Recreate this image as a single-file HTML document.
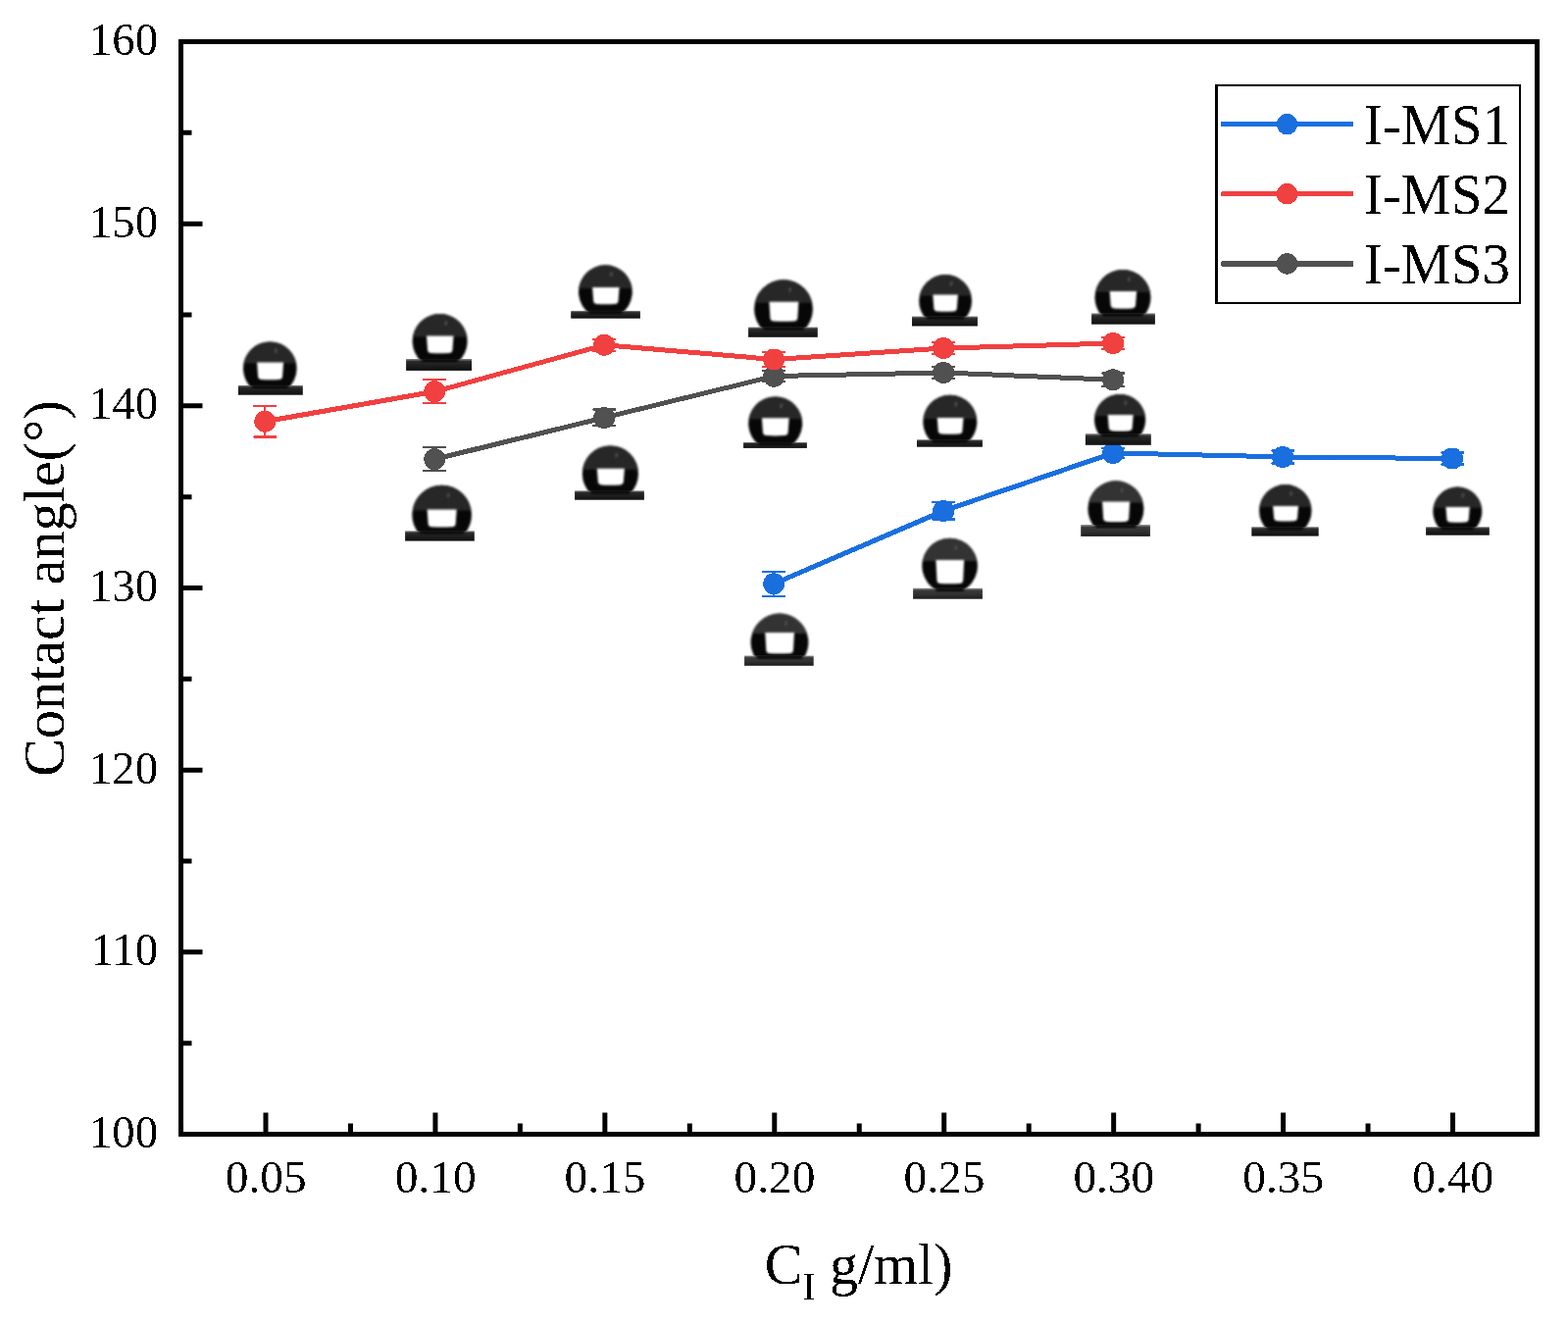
<!DOCTYPE html>
<html><head><meta charset="utf-8"><title>Contact angle</title>
<style>
html,body{margin:0;padding:0;background:#fff;overflow:hidden;}
svg{display:block;}
text{font-family:"Liberation Serif","Times New Roman",serif;fill:#000;}
</style></head><body>
<svg width="1599" height="1350" viewBox="0 0 1599 1350">
<defs>
<linearGradient id="barG" x1="0" y1="0" x2="0" y2="1">
<stop offset="0" stop-color="#8a8a8a"/><stop offset="0.22" stop-color="#2a2a2a"/><stop offset="0.6" stop-color="#1c1c1c"/><stop offset="1" stop-color="#101010"/></linearGradient>
<linearGradient id="barL" x1="0" y1="0" x2="0" y2="1">
<stop offset="0" stop-color="#9a9a9a"/><stop offset="0.22" stop-color="#3a3a3a"/><stop offset="0.6" stop-color="#303030"/><stop offset="1" stop-color="#1a1a1a"/></linearGradient>
<filter id="crisp" x="-5%" y="-5%" width="110%" height="110%" color-interpolation-filters="sRGB"><feComponentTransfer><feFuncA type="discrete" tableValues="0 1"/></feComponentTransfer></filter>
<filter id="bl" x="-10%" y="-10%" width="120%" height="120%" color-interpolation-filters="sRGB"><feGaussianBlur stdDeviation="0.9"/></filter>
</defs>
<rect width="1599" height="1350" fill="#fff"/>

<g id="series" filter="url(#crisp)">
<path d="M789.18,595.3 L962.14,520.9 L1135.1,461.9 L1308.06,465.9 L1481.02,467.5" fill="none" stroke="#1A6FDF" stroke-width="5" stroke-linejoin="round"/>
<path d="M270.3,429.7 L443.26,399.3 L616.22,351.8 L789.18,366.5 L962.14,355 L1135.1,350" fill="none" stroke="#F14040" stroke-width="5" stroke-linejoin="round"/>
<path d="M443.26,468.3 L616.22,425.9 L789.18,383.6 L962.14,380 L1135.1,387.3" fill="none" stroke="#515151" stroke-width="5" stroke-linejoin="round"/>
<circle cx="443.26" cy="468.3" r="11" fill="#515151"/>
<circle cx="616.22" cy="425.9" r="11" fill="#515151"/>
<circle cx="789.18" cy="383.6" r="11" fill="#515151"/>
<circle cx="962.14" cy="380" r="11" fill="#515151"/>
<circle cx="1135.1" cy="387.3" r="11" fill="#515151"/>
<circle cx="789.18" cy="595.3" r="11" fill="#1A6FDF"/>
<circle cx="962.14" cy="520.9" r="11" fill="#1A6FDF"/>
<circle cx="1135.1" cy="461.9" r="11" fill="#1A6FDF"/>
<circle cx="1308.06" cy="465.9" r="11" fill="#1A6FDF"/>
<circle cx="1481.02" cy="467.5" r="11" fill="#1A6FDF"/>
<circle cx="270.3" cy="429.7" r="11" fill="#F14040"/>
<circle cx="443.26" cy="399.3" r="11" fill="#F14040"/>
<circle cx="616.22" cy="351.8" r="11" fill="#F14040"/>
<circle cx="789.18" cy="366.5" r="11" fill="#F14040"/>
<circle cx="962.14" cy="355" r="11" fill="#F14040"/>
<circle cx="1135.1" cy="350" r="11" fill="#F14040"/>
<path d="M789.18,582.7V607.9M777.18,582.7H801.18M777.18,607.9H801.18" stroke="#1A6FDF" stroke-width="2" fill="none"/>
<path d="M962.14,512.25V529.55M950.14,512.25H974.14M950.14,529.55H974.14" stroke="#1A6FDF" stroke-width="2" fill="none"/>
<path d="M1135.1,456.65V467.15M1123.1,456.65H1147.1M1123.1,467.15H1147.1" stroke="#1A6FDF" stroke-width="2" fill="none"/>
<path d="M1308.06,459.4V472.4M1296.06,459.4H1320.06M1296.06,472.4H1320.06" stroke="#1A6FDF" stroke-width="2" fill="none"/>
<path d="M1481.02,461.5V473.5M1469.02,461.5H1493.02M1469.02,473.5H1493.02" stroke="#1A6FDF" stroke-width="2" fill="none"/>
<path d="M270.3,413.8V445.6M258.3,413.8H282.3M258.3,445.6H282.3" stroke="#F14040" stroke-width="2" fill="none"/>
<path d="M443.26,387.3V411.3M431.26,387.3H455.26M431.26,411.3H455.26" stroke="#F14040" stroke-width="2" fill="none"/>
<path d="M616.22,345.8V357.8M604.22,345.8H628.22M604.22,357.8H628.22" stroke="#F14040" stroke-width="2" fill="none"/>
<path d="M789.18,359V374M777.18,359H801.18M777.18,374H801.18" stroke="#F14040" stroke-width="2" fill="none"/>
<path d="M962.14,348.75V361.25M950.14,348.75H974.14M950.14,361.25H974.14" stroke="#F14040" stroke-width="2" fill="none"/>
<path d="M1135.1,344V356M1123.1,344H1147.1M1123.1,356H1147.1" stroke="#F14040" stroke-width="2" fill="none"/>
<path d="M443.26,456.3V480.3M431.26,456.3H455.26M431.26,480.3H455.26" stroke="#515151" stroke-width="2" fill="none"/>
<path d="M616.22,417.5V434.3M604.22,417.5H628.22M604.22,434.3H628.22" stroke="#515151" stroke-width="2" fill="none"/>
<path d="M789.18,377.95V389.25M777.18,377.95H801.18M777.18,389.25H801.18" stroke="#515151" stroke-width="2" fill="none"/>
<path d="M962.14,373.9V386.1M950.14,373.9H974.14M950.14,386.1H974.14" stroke="#515151" stroke-width="2" fill="none"/>
<path d="M1135.1,380.55V394.05M1123.1,380.55H1147.1M1123.1,394.05H1147.1" stroke="#515151" stroke-width="2" fill="none"/>
</g>
<g id="drops">
<g filter="url(#bl)"><clipPath id="c0"><circle cx="275.3" cy="375.7" r="27.3"/></clipPath><path d="M256.94,395.9 A27.3,27.3 0 1 1 293.66,395.9 Z" fill="#070707"/><g clip-path="url(#c0)"><rect x="247" y="347.4" width="56.6" height="23.1" fill="#272727"/></g><ellipse cx="281.31" cy="357.68" rx="1.3" ry="2.6" fill="#505050" transform="rotate(12 281.31 357.68)"/><path d="M262.1,369.5 L289.1,369.5 L288.1,383.2 Q288.1,387 284.3,387 Q275.6,387.6 266.9,387 Q263.1,387 263.1,383.2 Z" fill="#fff"/></g>
<rect x="242.9" y="392.9" width="65.9" height="9.8" fill="url(#barG)"/>
<path filter="url(#bl)" d="M254.6,391.9 L296,391.9 L292.5,396.4 L258.1,396.4 Z" fill="#0b0b0b"/>
<g filter="url(#bl)"><clipPath id="c1"><circle cx="448.6" cy="348" r="28"/></clipPath><path d="M430.08,369 A28,28 0 1 1 467.12,369 Z" fill="#070707"/><g clip-path="url(#c1)"><rect x="419.6" y="319" width="58" height="24.5" fill="#272727"/></g><ellipse cx="454.76" cy="329.52" rx="1.3" ry="2.6" fill="#505050" transform="rotate(12 454.76 329.52)"/><path d="M435,342.5 L462.5,342.5 L461.5,356.2 Q461.5,360 457.7,360 Q448.75,360.6 439.8,360 Q436,360 436,356.2 Z" fill="#fff"/></g>
<rect x="414.1" y="366" width="66.9" height="11.9" fill="url(#barG)"/>
<path filter="url(#bl)" d="M427.65,365 L469.55,365 L466.05,369.5 L431.15,369.5 Z" fill="#0b0b0b"/>
<g filter="url(#bl)"><clipPath id="c2"><circle cx="450.6" cy="525" r="30.3"/></clipPath><path d="M427.24,544.3 A30.3,30.3 0 1 1 473.96,544.3 Z" fill="#070707"/><g clip-path="url(#c2)"><rect x="419.3" y="493.7" width="62.6" height="26.7" fill="#272727"/></g><ellipse cx="457.27" cy="505" rx="1.3" ry="2.6" fill="#505050" transform="rotate(12 457.27 505)"/><path d="M435.6,519.4 L465.7,519.4 L464.7,533.4 Q464.7,537.2 460.9,537.2 Q450.65,537.8 440.4,537.2 Q436.6,537.2 436.6,533.4 Z" fill="#fff"/></g>
<rect x="413.1" y="541.3" width="70.7" height="10.3" fill="url(#barG)"/>
<path filter="url(#bl)" d="M425.56,540.3 L475.64,540.3 L472.14,544.8 L429.06,544.8 Z" fill="#0b0b0b"/>
<g filter="url(#bl)"><clipPath id="c3"><circle cx="617.4" cy="297.7" r="27.4"/></clipPath><path d="M601.34,319.9 A27.4,27.4 0 1 1 633.46,319.9 Z" fill="#070707"/><g clip-path="url(#c3)"><rect x="589" y="269.3" width="56.8" height="24.8" fill="#272727"/></g><ellipse cx="623.43" cy="279.62" rx="1.3" ry="2.6" fill="#505050" transform="rotate(12 623.43 279.62)"/><path d="M604.1,293.1 L631.6,293.1 L630.6,306.2 Q630.6,310 626.8,310 Q617.85,310.6 608.9,310 Q605.1,310 605.1,306.2 Z" fill="#fff"/></g>
<rect x="582.2" y="316.9" width="70.7" height="7.8" fill="url(#barG)"/>
<path filter="url(#bl)" d="M598.35,315.9 L636.45,315.9 L632.95,320.4 L601.85,320.4 Z" fill="#0b0b0b"/>
<g filter="url(#bl)"><clipPath id="c4"><circle cx="622.4" cy="483" r="28.6"/></clipPath><path d="M602.25,503.3 A28.6,28.6 0 1 1 642.55,503.3 Z" fill="#070707"/><g clip-path="url(#c4)"><rect x="592.8" y="453.4" width="59.2" height="25.4" fill="#272727"/></g><ellipse cx="628.69" cy="464.12" rx="1.3" ry="2.6" fill="#505050" transform="rotate(12 628.69 464.12)"/><path d="M608.8,477.8 L636.9,477.8 L635.9,490.6 Q635.9,494.4 632.1,494.4 Q622.85,495 613.6,494.4 Q609.8,494.4 609.8,490.6 Z" fill="#fff"/></g>
<rect x="586.1" y="500.3" width="70.8" height="9.4" fill="url(#barG)"/>
<path filter="url(#bl)" d="M600.13,499.3 L644.67,499.3 L641.17,503.8 L603.63,503.8 Z" fill="#0b0b0b"/>
<g filter="url(#bl)"><clipPath id="c5"><circle cx="799" cy="315.2" r="29.9"/></clipPath><path d="M778.02,336.5 A29.9,29.9 0 1 1 819.98,336.5 Z" fill="#070707"/><g clip-path="url(#c5)"><rect x="768.1" y="284.3" width="61.8" height="24.5" fill="#272727"/></g><ellipse cx="805.58" cy="295.47" rx="1.3" ry="2.6" fill="#505050" transform="rotate(12 805.58 295.47)"/><path d="M784.4,307.8 L814.4,307.8 L813.4,323.7 Q813.4,327.5 809.6,327.5 Q799.4,328.1 789.2,327.5 Q785.4,327.5 785.4,323.7 Z" fill="#fff"/></g>
<rect x="763.1" y="333.5" width="70.7" height="10.3" fill="url(#barG)"/>
<path filter="url(#bl)" d="M775.85,332.5 L822.15,332.5 L818.65,337 L779.35,337 Z" fill="#0b0b0b"/>
<g filter="url(#bl)"><clipPath id="c6"><circle cx="790.7" cy="431.9" r="27.5"/></clipPath><path d="M774.33,454 A27.5,27.5 0 1 1 807.07,454 Z" fill="#070707"/><g clip-path="url(#c6)"><rect x="762.2" y="403.4" width="57" height="23.9" fill="#272727"/></g><ellipse cx="796.75" cy="413.75" rx="1.3" ry="2.6" fill="#505050" transform="rotate(12 796.75 413.75)"/><path d="M776.9,426.3 L804.7,426.3 L803.7,440.3 Q803.7,444.1 799.9,444.1 Q790.8,444.7 781.7,444.1 Q777.9,444.1 777.9,440.3 Z" fill="#fff"/></g>
<rect x="758.1" y="451" width="64.8" height="5.9" fill="url(#barG)"/>
<path filter="url(#bl)" d="M771.42,450 L809.98,450 L806.48,454.5 L774.92,454.5 Z" fill="#0b0b0b"/>
<g filter="url(#bl)"><clipPath id="c7"><circle cx="795" cy="655" r="29.4"/></clipPath><path d="M770.67,671.5 A29.4,29.4 0 1 1 819.33,671.5 Z" fill="#070707"/><g clip-path="url(#c7)"><rect x="764.6" y="624.6" width="60.8" height="21.4" fill="#333333"/></g><ellipse cx="801.47" cy="635.6" rx="1.3" ry="2.6" fill="#505050" transform="rotate(12 801.47 635.6)"/><path d="M780.3,645 L810,645 L809,662.5 Q809,666.3 805.2,666.3 Q795.15,666.9 785.1,666.3 Q781.3,666.3 781.3,662.5 Z" fill="#fff"/></g>
<rect x="759.1" y="668.5" width="70.6" height="10.3" fill="url(#barL)"/>
<path filter="url(#bl)" d="M769.38,667.5 L820.62,667.5 L817.12,672 L772.88,672 Z" fill="#0b0b0b"/>
<g filter="url(#bl)"><clipPath id="c8"><circle cx="964.1" cy="306.9" r="26.9"/></clipPath><path d="M944.67,325.5 A26.9,26.9 0 1 1 983.53,325.5 Z" fill="#070707"/><g clip-path="url(#c8)"><rect x="936.2" y="279" width="55.8" height="22.6" fill="#272727"/></g><ellipse cx="970.02" cy="289.15" rx="1.3" ry="2.6" fill="#505050" transform="rotate(12 970.02 289.15)"/><path d="M951.3,300.6 L976.9,300.6 L975.9,313.7 Q975.9,317.5 972.1,317.5 Q964.1,318.1 956.1,317.5 Q952.3,317.5 952.3,313.7 Z" fill="#fff"/></g>
<rect x="930" y="322.5" width="66.9" height="10" fill="url(#barG)"/>
<path filter="url(#bl)" d="M942.69,321.5 L985.51,321.5 L982.01,326 L946.19,326 Z" fill="#0b0b0b"/>
<g filter="url(#bl)"><clipPath id="c9"><circle cx="968.8" cy="430.3" r="27.5"/></clipPath><path d="M950.93,451.2 A27.5,27.5 0 1 1 986.67,451.2 Z" fill="#070707"/><g clip-path="url(#c9)"><rect x="940.3" y="401.8" width="57" height="25.2" fill="#272727"/></g><ellipse cx="974.85" cy="412.15" rx="1.3" ry="2.6" fill="#505050" transform="rotate(12 974.85 412.15)"/><path d="M955.7,426 L982.5,426 L981.5,438.7 Q981.5,442.5 977.7,442.5 Q969.1,443.1 960.5,442.5 Q956.7,442.5 956.7,438.7 Z" fill="#fff"/></g>
<rect x="935" y="448.2" width="66.9" height="7.5" fill="url(#barG)"/>
<path filter="url(#bl)" d="M948.42,447.2 L989.18,447.2 L985.68,451.7 L951.92,451.7 Z" fill="#0b0b0b"/>
<g filter="url(#bl)"><clipPath id="c10"><circle cx="968.6" cy="577.1" r="28.3"/></clipPath><path d="M956.54,602.7 A28.3,28.3 0 1 1 980.66,602.7 Z" fill="#070707"/><g clip-path="url(#c10)"><rect x="939.3" y="547.8" width="58.6" height="24.2" fill="#333333"/></g><ellipse cx="974.83" cy="558.42" rx="1.3" ry="2.6" fill="#505050" transform="rotate(12 974.83 558.42)"/><path d="M954.4,571 L983.2,571 L982.2,591.2 Q982.2,595 978.4,595 Q968.8,595.6 959.2,595 Q955.4,595 955.4,591.2 Z" fill="#fff"/></g>
<rect x="931.1" y="599.7" width="70.8" height="11" fill="url(#barL)"/>
<path filter="url(#bl)" d="M952.07,598.7 L985.13,598.7 L981.63,603.2 L955.57,603.2 Z" fill="#0b0b0b"/>
<g filter="url(#bl)"><clipPath id="c11"><circle cx="1145" cy="303.5" r="28.5"/></clipPath><path d="M1123.67,322.4 A28.5,28.5 0 1 1 1166.33,322.4 Z" fill="#070707"/><g clip-path="url(#c11)"><rect x="1115.5" y="274" width="59" height="23.9" fill="#272727"/></g><ellipse cx="1151.27" cy="284.69" rx="1.3" ry="2.6" fill="#505050" transform="rotate(12 1151.27 284.69)"/><path d="M1131.6,296.9 L1159.1,296.9 L1158.1,310.6 Q1158.1,314.4 1154.3,314.4 Q1145.35,315 1136.4,314.4 Q1132.6,314.4 1132.6,310.6 Z" fill="#fff"/></g>
<rect x="1113.1" y="319.4" width="64.8" height="11.3" fill="url(#barG)"/>
<path filter="url(#bl)" d="M1121.85,318.4 L1168.15,318.4 L1164.65,322.9 L1125.35,322.9 Z" fill="#0b0b0b"/>
<g filter="url(#bl)"><clipPath id="c12"><circle cx="1142.1" cy="428" r="26.1"/></clipPath><path d="M1122.47,445.2 A26.1,26.1 0 1 1 1161.73,445.2 Z" fill="#070707"/><g clip-path="url(#c12)"><rect x="1115" y="400.9" width="54.2" height="23.2" fill="#272727"/></g><ellipse cx="1147.84" cy="410.77" rx="1.3" ry="2.6" fill="#505050" transform="rotate(12 1147.84 410.77)"/><path d="M1129.7,423.1 L1155.7,423.1 L1154.7,435.6 Q1154.7,439.4 1150.9,439.4 Q1142.7,440 1134.5,439.4 Q1130.7,439.4 1130.7,435.6 Z" fill="#fff"/></g>
<rect x="1106.9" y="442.2" width="66.9" height="11.6" fill="url(#barG)"/>
<path filter="url(#bl)" d="M1120.7,441.2 L1163.5,441.2 L1160,445.7 L1124.2,445.7 Z" fill="#0b0b0b"/>
<g filter="url(#bl)"><clipPath id="c13"><circle cx="1137.9" cy="518.8" r="28.5"/></clipPath><path d="M1116.84,538 A28.5,28.5 0 1 1 1158.96,538 Z" fill="#070707"/><g clip-path="url(#c13)"><rect x="1108.4" y="489.3" width="59" height="23.3" fill="#333333"/></g><ellipse cx="1144.17" cy="499.99" rx="1.3" ry="2.6" fill="#505050" transform="rotate(12 1144.17 499.99)"/><path d="M1124.1,511.6 L1152.2,511.6 L1151.2,528.1 Q1151.2,531.9 1147.4,531.9 Q1138.15,532.5 1128.9,531.9 Q1125.1,531.9 1125.1,528.1 Z" fill="#fff"/></g>
<rect x="1102.2" y="535" width="70.7" height="11.9" fill="url(#barL)"/>
<path filter="url(#bl)" d="M1114.95,534 L1160.85,534 L1157.35,538.5 L1118.45,538.5 Z" fill="#0b0b0b"/>
<g filter="url(#bl)"><clipPath id="c14"><circle cx="1310.8" cy="520.8" r="26.7"/></clipPath><path d="M1292.46,540.2 A26.7,26.7 0 1 1 1329.14,540.2 Z" fill="#070707"/><g clip-path="url(#c14)"><rect x="1283.1" y="493.1" width="55.4" height="23.9" fill="#272727"/></g><ellipse cx="1316.67" cy="503.18" rx="1.3" ry="2.6" fill="#505050" transform="rotate(12 1316.67 503.18)"/><path d="M1298.1,516 L1324.1,516 L1323.1,527.5 Q1323.1,531.3 1319.3,531.3 Q1311.1,531.9 1302.9,531.3 Q1299.1,531.3 1299.1,527.5 Z" fill="#fff"/></g>
<rect x="1276.3" y="537.2" width="68.4" height="9.4" fill="url(#barG)"/>
<path filter="url(#bl)" d="M1290.23,536.2 L1331.37,536.2 L1327.87,540.7 L1293.73,540.7 Z" fill="#0b0b0b"/>
<g filter="url(#bl)"><clipPath id="c15"><circle cx="1486.3" cy="521.6" r="25"/></clipPath><path d="M1469.6,540.2 A25,25 0 1 1 1503,540.2 Z" fill="#070707"/><g clip-path="url(#c15)"><rect x="1460.3" y="495.6" width="52" height="22.3" fill="#272727"/></g><ellipse cx="1491.8" cy="505.1" rx="1.3" ry="2.6" fill="#505050" transform="rotate(12 1491.8 505.1)"/><path d="M1474.4,516.9 L1498.8,516.9 L1497.8,528.7 Q1497.8,532.5 1494,532.5 Q1486.6,533.1 1479.2,532.5 Q1475.4,532.5 1475.4,528.7 Z" fill="#fff"/></g>
<rect x="1454.1" y="537.2" width="64.7" height="8.5" fill="url(#barG)"/>
<path filter="url(#bl)" d="M1467.26,536.2 L1505.34,536.2 L1501.84,540.7 L1470.76,540.7 Z" fill="#0b0b0b"/>
</g>
<rect x="184.5" y="42.5" width="1383" height="1114" fill="none" stroke="#000" stroke-width="5"/>
<path d="M184.5,1156.5H206.5M184.5,1063.67H195.5M184.5,970.83H206.5M184.5,878H195.5M184.5,785.17H206.5M184.5,692.33H195.5M184.5,599.5H206.5M184.5,506.67H195.5M184.5,413.83H206.5M184.5,321H195.5M184.5,228.17H206.5M184.5,135.33H195.5M184.5,42.5H206.5M271,1156.5V1134.5M357.47,1156.5V1145.5M443.93,1156.5V1134.5M530.39,1156.5V1145.5M616.86,1156.5V1134.5M703.33,1156.5V1145.5M789.79,1156.5V1134.5M876.25,1156.5V1145.5M962.72,1156.5V1134.5M1049.18,1156.5V1145.5M1135.65,1156.5V1134.5M1222.12,1156.5V1145.5M1308.58,1156.5V1134.5M1395.04,1156.5V1145.5M1481.51,1156.5V1134.5M184.53,1156.5V1145.5" stroke="#000" stroke-width="5" fill="none"/>
<g filter="url(#crisp)">
<text transform="translate(161,1170) scale(1.016,1)" font-size="46" text-anchor="end">100</text>
<text transform="translate(161,984.33) scale(1.016,1)" font-size="46" text-anchor="end">110</text>
<text transform="translate(161,798.67) scale(1.016,1)" font-size="46" text-anchor="end">120</text>
<text transform="translate(161,613) scale(1.016,1)" font-size="46" text-anchor="end">130</text>
<text transform="translate(161,427.33) scale(1.016,1)" font-size="46" text-anchor="end">140</text>
<text transform="translate(161,241.67) scale(1.016,1)" font-size="46" text-anchor="end">150</text>
<text transform="translate(161,56) scale(1.016,1)" font-size="46" text-anchor="end">160</text>
<text transform="translate(271.2,1216) scale(1.03,1)" font-size="46" text-anchor="middle">0.05</text>
<text transform="translate(444.13,1216) scale(1.03,1)" font-size="46" text-anchor="middle">0.10</text>
<text transform="translate(617.06,1216) scale(1.03,1)" font-size="46" text-anchor="middle">0.15</text>
<text transform="translate(789.99,1216) scale(1.03,1)" font-size="46" text-anchor="middle">0.20</text>
<text transform="translate(962.92,1216) scale(1.03,1)" font-size="46" text-anchor="middle">0.25</text>
<text transform="translate(1135.85,1216) scale(1.03,1)" font-size="46" text-anchor="middle">0.30</text>
<text transform="translate(1308.78,1216) scale(1.03,1)" font-size="46" text-anchor="middle">0.35</text>
<text transform="translate(1481.71,1216) scale(1.03,1)" font-size="46" text-anchor="middle">0.40</text>
<text transform="translate(779.8,1309) scale(0.967,1)" font-size="60">C<tspan font-size="40" dy="16">I</tspan><tspan dy="-16"> g/ml)</tspan></text>
<text transform="translate(65,791.8) rotate(-90) scale(0.97,1)" font-size="60">Contact angle(°)</text>
<path d="M1239,86H1551V310H1239Z M1242,88V308H1549V88Z" fill="#000" fill-rule="evenodd"/>
<path d="M1245.5,126.6H1380" stroke="#1A6FDF" stroke-width="5"/>
<circle cx="1312.5" cy="126.6" r="10.7" fill="#1A6FDF"/>
<text transform="translate(1390.85,147) scale(0.976,1)" font-size="58.5">I-MS1</text>
<path d="M1245.5,197.8H1380" stroke="#F14040" stroke-width="5"/>
<circle cx="1312.5" cy="197.8" r="10.7" fill="#F14040"/>
<text transform="translate(1390.85,218) scale(0.976,1)" font-size="58.5">I-MS2</text>
<path d="M1245.5,269H1380" stroke="#515151" stroke-width="5"/>
<circle cx="1312.5" cy="269" r="10.7" fill="#515151"/>
<text transform="translate(1390.85,289) scale(0.976,1)" font-size="58.5">I-MS3</text>
</g>
</svg>
</body></html>
